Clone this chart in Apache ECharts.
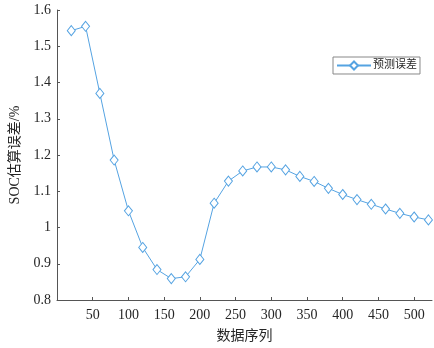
<!DOCTYPE html>
<html>
<head>
<meta charset="utf-8">
<script src="https://cdn.jsdelivr.net/npm/echarts@6/dist/echarts.min.js"></script>
<style>
  html, body { margin: 0; padding: 0; background: #fff; }
  #main { width: 434px; height: 348px; }
</style>
</head>
<body>
<div id="main"></div>
<script>
// 数据序列 (x) 与 SOC估算误差 (y)
var seqIndex = [20, 40, 60, 80, 100, 120, 140, 160, 180, 200, 220, 240, 260,
                280, 300, 320, 340, 360, 380, 400, 420, 440, 460, 480, 500, 520];
var socError = [1.543, 1.555, 1.370, 1.186, 1.046, 0.945, 0.884, 0.859, 0.864, 0.912, 1.067, 1.128, 1.156,
                1.167, 1.167, 1.159, 1.141, 1.127, 1.108, 1.091, 1.077, 1.064, 1.051, 1.039, 1.029, 1.021];
var seriesName = '预测误差';

// 数字用 Times 风格字体，中文用思源黑体
var numFont = 'Liberation Serif';
var cjkFont = 'Liberation Serif, Noto Sans CJK SC';
var axisColor = '#555555';
var textColor = '#262626';
var lineColor = '#55a3e2';

var myChart = echarts.init(document.getElementById('main'));

var points = seqIndex.map(function (x, i) { return [x, socError[i]]; });

myChart.setOption({
    animation: false,
    grid: { left: 52, right: 2, top: 10, bottom: 43 },
    legend: {
        left: 333,
        top: 57,
        orient: 'vertical',
        padding: [3, 3, 3, 3],
        borderColor: '#888888',
        borderWidth: 1,
        backgroundColor: '#ffffff',
        itemWidth: 34,
        itemHeight: 10,
        itemGap: 0,
        textStyle: { fontFamily: cjkFont, fontSize: 11, color: textColor, padding: [0, 0, 0, -3] },
        data: [seriesName]
    },
    xAxis: {
        type: 'value',
        min: 0,
        max: 525,
        interval: 50,
        name: '数据序列',
        nameLocation: 'middle',
        nameGap: 29,
        nameTextStyle: { fontFamily: cjkFont, fontSize: 14, color: textColor },
        axisLine: { show: true, lineStyle: { color: axisColor, width: 1 } },
        axisTick: { show: true, inside: true, length: 3, lineStyle: { color: axisColor } },
        axisLabel: {
            fontFamily: numFont, fontSize: 14, color: textColor, margin: 8,
            showMinLabel: false, showMaxLabel: false,
            formatter: function (v) { return (v === 0 || v % 50 !== 0) ? '' : v; }
        },
        splitLine: { show: false }
    },
    yAxis: {
        type: 'value',
        min: 0.8,
        max: 1.6,
        interval: 0.1,
        name: 'SOC估算误差/%',
        nameLocation: 'middle',
        nameGap: 35,
        nameTextStyle: { fontFamily: cjkFont, fontSize: 14, color: textColor },
        axisLine: { show: true, lineStyle: { color: axisColor, width: 1 } },
        axisTick: { show: true, inside: true, length: 3, lineStyle: { color: axisColor } },
        axisLabel: {
            fontFamily: numFont, fontSize: 14, color: textColor, margin: 6,
            formatter: function (v) { return parseFloat(v.toFixed(1)).toString(); }
        },
        splitLine: { show: false }
    },
    series: [
        {
            name: seriesName,
            type: 'line',
            data: points,
            symbol: 'diamond',
            symbolSize: [8, 10],
            showAllSymbol: true,
            lineStyle: { color: lineColor, width: 1 },
            itemStyle: { color: '#ffffff', borderColor: lineColor, borderWidth: 1 }
        }
    ]
});
</script>
</body>
</html>
